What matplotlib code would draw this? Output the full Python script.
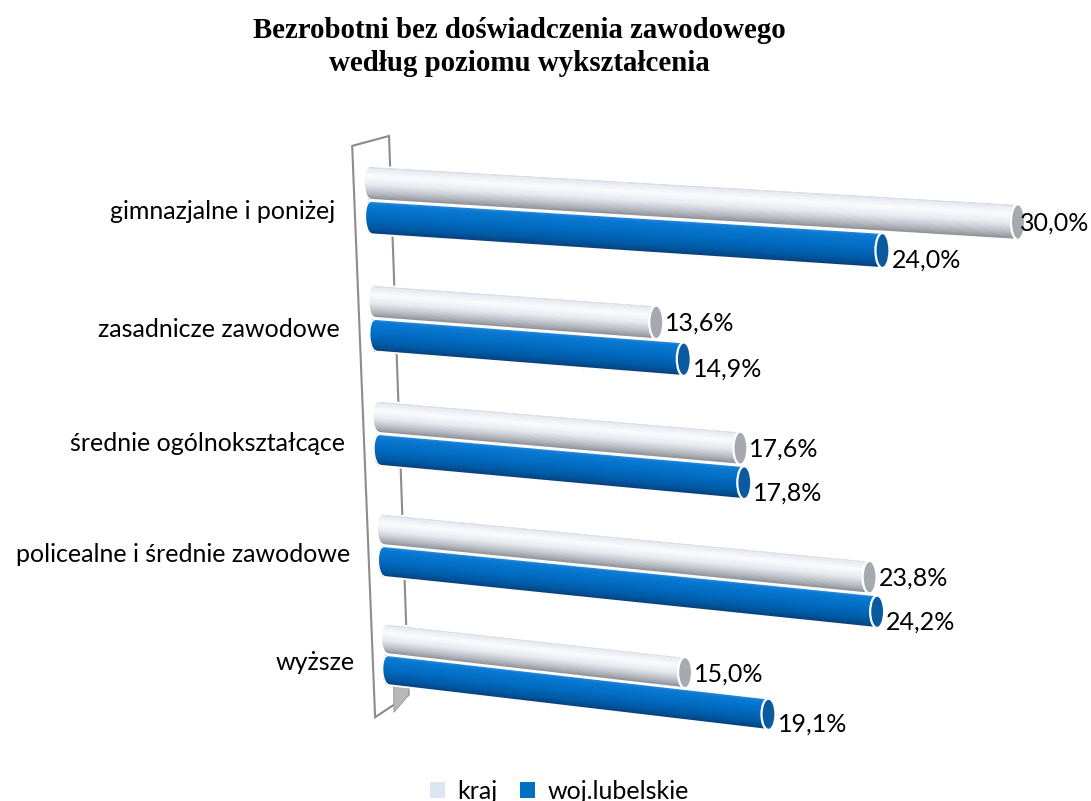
import numpy as np
import matplotlib.pyplot as plt
from matplotlib.patches import Ellipse, Patch, Polygon
from matplotlib.colors import LinearSegmentedColormap

categories = ["gimnazjalne i poniżej", "zasadnicze zawodowe", "średnie ogólnokształcące",
              "policealne i średnie zawodowe", "wyższe"]
kraj = [30.0, 13.6, 17.6, 23.8, 15.0]
woj = [24.0, 14.9, 17.8, 24.2, 19.1]
series_names = ["kraj", "woj.lubelskie"]
title = "Bezrobotni bez doświadczenia zawodowego\nwedług poziomu wykształcenia"

plt.rcParams['font.family'] = ['Lato', 'DejaVu Sans']

W, H = 1091, 801
fig = plt.figure(figsize=(W / 100, H / 100), dpi=100)
ax = fig.add_axes([0, 0, 1, 1])
ax.set_xlim(0, W)
ax.set_ylim(H, 0)
ax.axis('off')


# 3D-ish perspective: value v along the bar, r = row position (category + series offset)
def proj(v, r):
    x = 370 + 4.3 * r + v * (20.6 - 0.3 * r) / (1 - 0.00154 * v)
    y = 183 + 120 * r - 1.5 * r ** 2 + v * (1.30 + 0.235 * r)
    return x, y


grey_cmap = LinearSegmentedColormap.from_list('grey', [
    (0.0, '#b8bcc2'), (0.08, '#e6eaf0'), (0.3, '#fafbfd'), (0.55, '#e6e9ee'),
    (0.8, '#b9bdc3'), (1.0, '#8a8e94')])
blue_cmap = LinearSegmentedColormap.from_list('blue', [
    (0.0, '#3f92d8'), (0.12, '#0a7ad4'), (0.5, '#006abf'), (0.8, '#0058a3'),
    (1.0, '#083f78')])

HALF = 0.14
OFFS = [0.0, 0.29]


def cylinder(v, r, cmap, cap_color, n=40, w=12):
    ts = np.linspace(-1, 1, n + 1)
    step = ts[1] - ts[0]
    for a in ts[:-1]:
        b = min(1.0, a + step * 1.5)
        xa0, ya0 = proj(0, r + a * HALF)
        xb0, yb0 = proj(0, r + b * HALF)
        xa1, ya1 = proj(v, r + a * HALF)
        xb1, yb1 = proj(v, r + b * HALF)
        ra = w / 2 * np.sqrt(max(0, 1 - a * a))
        rb = w / 2 * np.sqrt(max(0, 1 - b * b))
        c = cmap(a / 2 + step / 4 + 0.5)
        ax.add_patch(Polygon([(xa0 - ra, ya0), (xa1, ya1), (xb1, yb1), (xb0 - rb, yb0)],
                             closed=True, facecolor=c, edgecolor='none', lw=0,
                             antialiased=False, zorder=3))
    # white outline along the body
    left = [(proj(0, r + t * HALF)[0] - w / 2 * np.sqrt(max(0, 1 - t * t)),
             proj(0, r + t * HALF)[1]) for t in np.linspace(1, -1, 21)]
    pts = [proj(v, r + HALF)] + left + [proj(v, r - HALF)]
    xs, ys = zip(*pts)
    ax.plot(xs, ys, color='white', lw=1.3, zorder=4)
    xc, yc = proj(v, r)
    yt = proj(v, r - HALF)[1]
    yb = proj(v, r + HALF)[1]
    ax.add_patch(Ellipse((xc, yc), w + 2, yb - yt, facecolor=cap_color,
                         edgecolor='white', lw=1.6, zorder=5))
    return xc, yc


# back wall
wall = [proj(-0.8, -0.3), proj(1.0, -0.4), proj(1.0, 4.5), proj(-0.8, 4.75)]
ax.add_patch(Polygon(wall, closed=True, facecolor='white', edgecolor='#8c8c8c', lw=1.5, zorder=1))
floor = [proj(0.3, 4.0), proj(1.0, 4.0), proj(1.0, 4.5), proj(0.2, 4.68)]
ax.add_patch(Polygon(floor, closed=True, facecolor='#b8b8b8', edgecolor='#a0a0a0', lw=0.8, zorder=2))

label_kw = dict(fontsize=18, color='black', zorder=6)
value_texts = []
for g, (cat, k, wv) in enumerate(zip(categories, kraj, woj)):
    xk, yk = cylinder(k, g + OFFS[0], grey_cmap, '#a6aab0')
    xw, yw = cylinder(wv, g + OFFS[1], blue_cmap, '#0a5aa0')
    value_texts.append(ax.text(xk + 9, yk + 1, f"{k:.1f}%".replace('.', ','),
                               ha='left', va='center', **label_kw))
    value_texts.append(ax.text(xw + 9, yw + 10, f"{wv:.1f}%".replace('.', ','),
                               ha='left', va='center', **label_kw))
    lx, ly = proj(-1.75, g + 0.26)
    ax.text(lx, ly, cat, ha='right', va='center', **label_kw)

# keep value labels inside the picture (like Excel squeezes them)
renderer = fig.canvas.get_renderer()
for t in value_texts:
    bb = t.get_window_extent(renderer)
    if bb.x1 > W - 2:
        x, y = t.get_position()
        t.set_position((x - (bb.x1 - (W - 2)), y))

ax.text(W * 0.476, 47, title, ha='center', va='center', fontsize=20.8, fontweight='bold',
        family='Liberation Serif', linespacing=1.33)

handles = [Patch(facecolor='#dce6f2', edgecolor='none', label=series_names[0]),
           Patch(facecolor='#0070c0', edgecolor='none', label=series_names[1])]
ax.legend(handles=handles, loc='center', bbox_to_anchor=(0.513, 0.012), ncol=2, frameon=False,
          fontsize=18, handlelength=0.6, handleheight=0.6, handletextpad=0.5, columnspacing=0.9)

fig.savefig('out.png', dpi=100)
